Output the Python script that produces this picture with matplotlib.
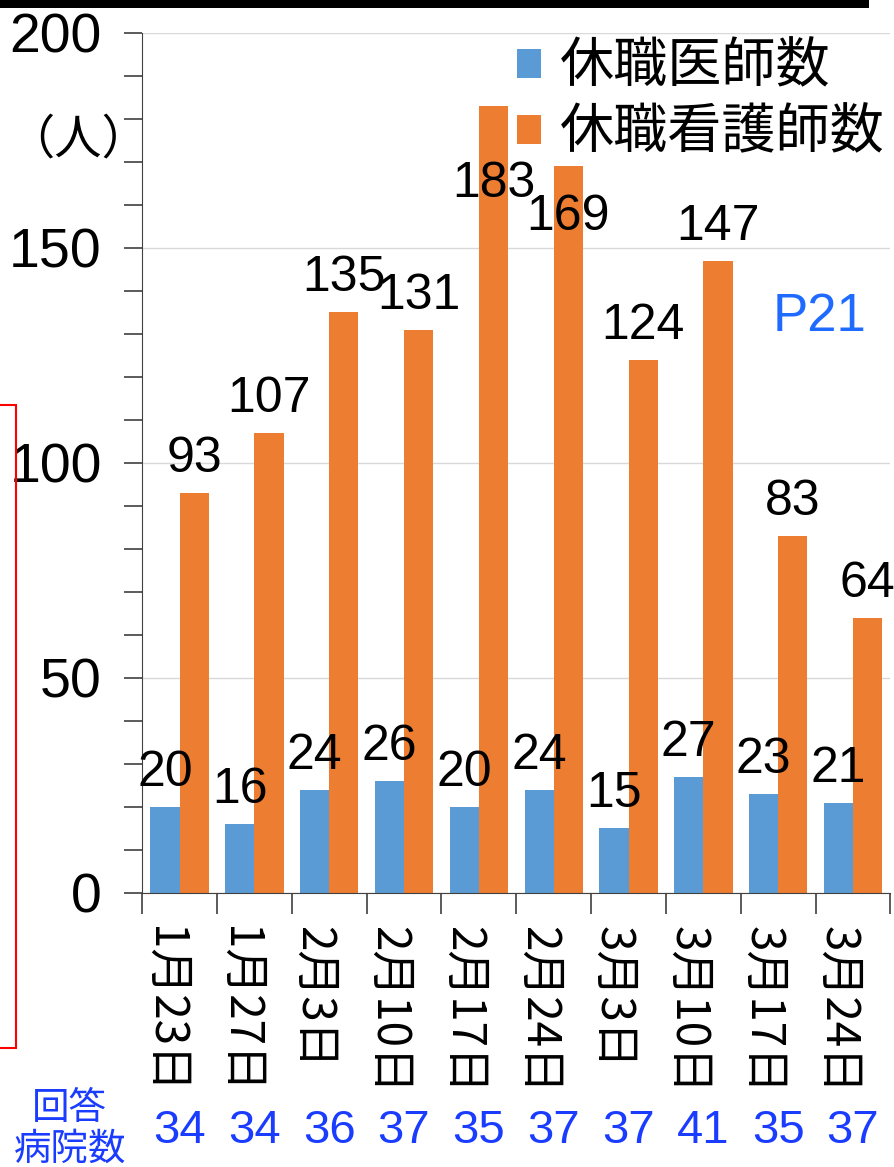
import numpy as np
import matplotlib.pyplot as plt
from matplotlib.patches import Rectangle

plt.rcParams['font.family'] = ['Liberation Sans', 'Noto Sans CJK JP']

# データ
dates = ['1月23日', '1月27日', '2月3日', '2月10日', '2月17日',
         '2月24日', '3月3日', '3月10日', '3月17日', '3月24日']
doctors = [20, 16, 24, 26, 20, 24, 15, 27, 23, 21]
nurses = [93, 107, 135, 131, 183, 169, 124, 147, 83, 64]
hospitals = [34, 34, 36, 37, 35, 37, 37, 41, 35, 37]

blue = '#5B9BD5'
orange = '#ED7D31'
jp = ['Noto Sans CJK JP', 'DejaVu Sans']

fig = plt.figure(figsize=(8.94, 11.67), dpi=100)
ax = fig.add_axes([0.159, 0.2348, 0.837, 0.737])

x = np.arange(len(dates))
w = 0.39
ax.bar(x - w / 2, doctors, w, color=blue, label='休職医師数')
ax.bar(x + w / 2, nurses, w, color=orange, label='休職看護師数')

ax.set_xlim(-0.5, len(dates) - 0.5)
ax.set_ylim(0, 200)
ax.set_yticks([0, 50, 100, 150, 200])
ax.set_yticks(np.arange(0, 201, 10), minor=True)
ax.grid(axis='y', color='#d9d9d9', lw=1)
ax.set_axisbelow(True)
for s in ['top', 'right']:
    ax.spines[s].set_visible(False)
ax.spines['left'].set_color('#404040')
ax.spines['bottom'].set_color('#404040')
ax.tick_params(axis='y', which='both', direction='out', length=13, width=1.2,
               color='#404040', labelsize=40, pad=16)

# x軸: 区切りの目盛り
ax.set_xticks(np.arange(-0.5, len(dates), 1))
ax.set_xticklabels([])
ax.tick_params(axis='x', direction='out', length=15, width=1.2, color='#404040')
for i, d in enumerate(dates):
    ax.annotate(d, xy=(i, 0), xytext=(-11, -24), textcoords='offset points',
                ha='center', va='top', rotation=-90, fontsize=33, family=jp)

# 数値ラベル
for i, v in enumerate(doctors):
    ax.annotate(str(v), xy=(i - w / 2, v), xytext=(0, 8), textcoords='offset points',
                ha='center', va='bottom', fontsize=36)
shift = {4: -73, 5: -53}
for i, v in enumerate(nurses):
    ax.annotate(str(v), xy=(i + w / 2, v), xytext=(0, shift.get(i, 8)),
                textcoords='offset points', ha='center', va='bottom', fontsize=36)

leg = ax.legend(loc='upper right', bbox_to_anchor=(1.036, 1.03), frameon=False,
                prop={'family': jp, 'size': 39}, handlelength=0.45, handleheight=0.45,
                handletextpad=0.35, labelspacing=0.2, borderpad=0.1)

fig.text(0.087, 0.88, '（人）', fontsize=34, ha='center', va='center', family=jp)
fig.text(0.917, 0.728, 'P21', fontsize=38, color='#1F6BFF', ha='center', va='center')

# 回答病院数
fig.text(0.078, 0.033, '回答\n病院数', fontsize=27, color='#1A3CFF',
         ha='center', va='center', linespacing=1.05, family=jp)
for i, h in enumerate(hospitals):
    xf = ax.transData.transform((i, 0))[0] / fig.bbox.width
    fig.text(xf, 0.031, str(h), fontsize=34, color='#1A3CFF', ha='center', va='center')

# 上の黒線と左の赤枠
fig.add_artist(Rectangle((0, 0.993), 0.972, 0.007, transform=fig.transFigure,
                         color='black', lw=0))
fig.add_artist(Rectangle((-0.1, 0.102), 0.118, 0.551, transform=fig.transFigure,
                         fill=False, edgecolor='red', lw=1.5))

fig.savefig('out.png', dpi=100)
